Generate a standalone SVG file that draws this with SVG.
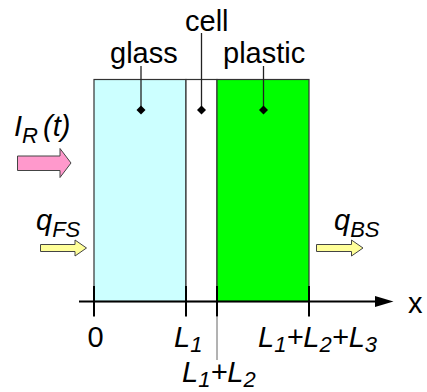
<svg xmlns="http://www.w3.org/2000/svg" width="427" height="392" viewBox="0 0 427 392">
<style>
text{font-family:"Liberation Sans",Arial,sans-serif;font-size:29px;fill:#000}
.i{font-style:italic}
.sub{font-size:22px}
.lead{stroke:#222;stroke-width:1.3;fill:none}
.tick{stroke:#000;stroke-width:2}
.dia{fill:#000}
.blk{stroke:#333;stroke-width:1.2}
.flux{stroke:#444;stroke-width:1}
</style>
<rect width="427" height="392" fill="#fff"/>
<g id="glass">
<rect x="94" y="79.5" width="92" height="222" fill="#CCFFFF" class="blk"/>
<text x="110" y="63">glass</text>
<line x1="141" y1="66" x2="141" y2="110" class="lead"/>
<polygon points="141,105.5 145.5,110 141,114.5 136.5,110" class="dia"/>
</g>
<g id="cell">
<rect x="186" y="79.5" width="31" height="222" fill="#fff" class="blk"/>
<text x="185" y="30.5">cell</text>
<line x1="201.5" y1="33" x2="201.5" y2="110" class="lead"/>
<polygon points="201.5,105.5 206,110 201.5,114.5 197,110" class="dia"/>
</g>
<g id="plastic">
<rect x="217" y="79.5" width="92" height="222" fill="#00FF00" class="blk"/>
<text x="223" y="63">plastic</text>
<line x1="263.5" y1="66" x2="263.5" y2="110" class="lead" stroke="#444"/>
<polygon points="263.5,105.5 268,110 263.5,114.5 259,110" class="dia"/>
</g>
<g id="IR">
<text x="14" y="136" class="i">I<tspan class="sub" dy="7">R</tspan><tspan x="43" dy="-7">(t)</tspan></text>
<polygon points="17.5,156 60,156 60,148.5 71,163 60,177.5 60,170.5 17.5,170.5" fill="#FF99CC" class="flux"/>
</g>
<g id="qFS">
<text x="36" y="230" class="i">q<tspan class="sub" dy="7">FS</tspan></text>
<polygon points="40.5,244.5 75,244.5 75,240 86.5,248 75,256 75,251.5 40.5,251.5" fill="#FFFF99" class="flux"/>
</g>
<g id="qBS">
<text x="334" y="230" class="i">q<tspan class="sub" dy="7">BS</tspan></text>
<polygon points="316.5,244.5 351.5,244.5 351.5,240 363,248 351.5,256 351.5,251.5 316.5,251.5" fill="#FFFF99" class="flux"/>
</g>
<g id="axis">
<line x1="79" y1="301.5" x2="378" y2="301.5" stroke="#000" stroke-width="2"/>
<polygon points="375,296 393.5,301.5 375,307" fill="#000"/>
<line x1="94" y1="286" x2="94" y2="316.5" class="tick"/>
<line x1="186" y1="286" x2="186" y2="316.5" class="tick"/>
<line x1="217" y1="286" x2="217" y2="316.5" class="tick"/>
<line x1="309" y1="286" x2="309" y2="316.5" class="tick"/>
<line x1="217" y1="316" x2="217" y2="360" stroke="#666" stroke-width="1"/>
<text x="408" y="312.5">x</text>
<text x="87.5" y="347">0</text>
<text x="174" y="347" class="i">L<tspan class="sub" dy="5">1</tspan></text>
<text x="258" y="347" class="i">L<tspan class="sub" dy="5">1</tspan><tspan dy="-5">+L</tspan><tspan class="sub" dy="5">2</tspan><tspan dy="-5">+L</tspan><tspan class="sub" dy="5">3</tspan></text>
<text x="182" y="382" class="i">L<tspan class="sub" dy="5">1</tspan><tspan dy="-5">+L</tspan><tspan class="sub" dy="5">2</tspan></text>
</g>
</svg>
